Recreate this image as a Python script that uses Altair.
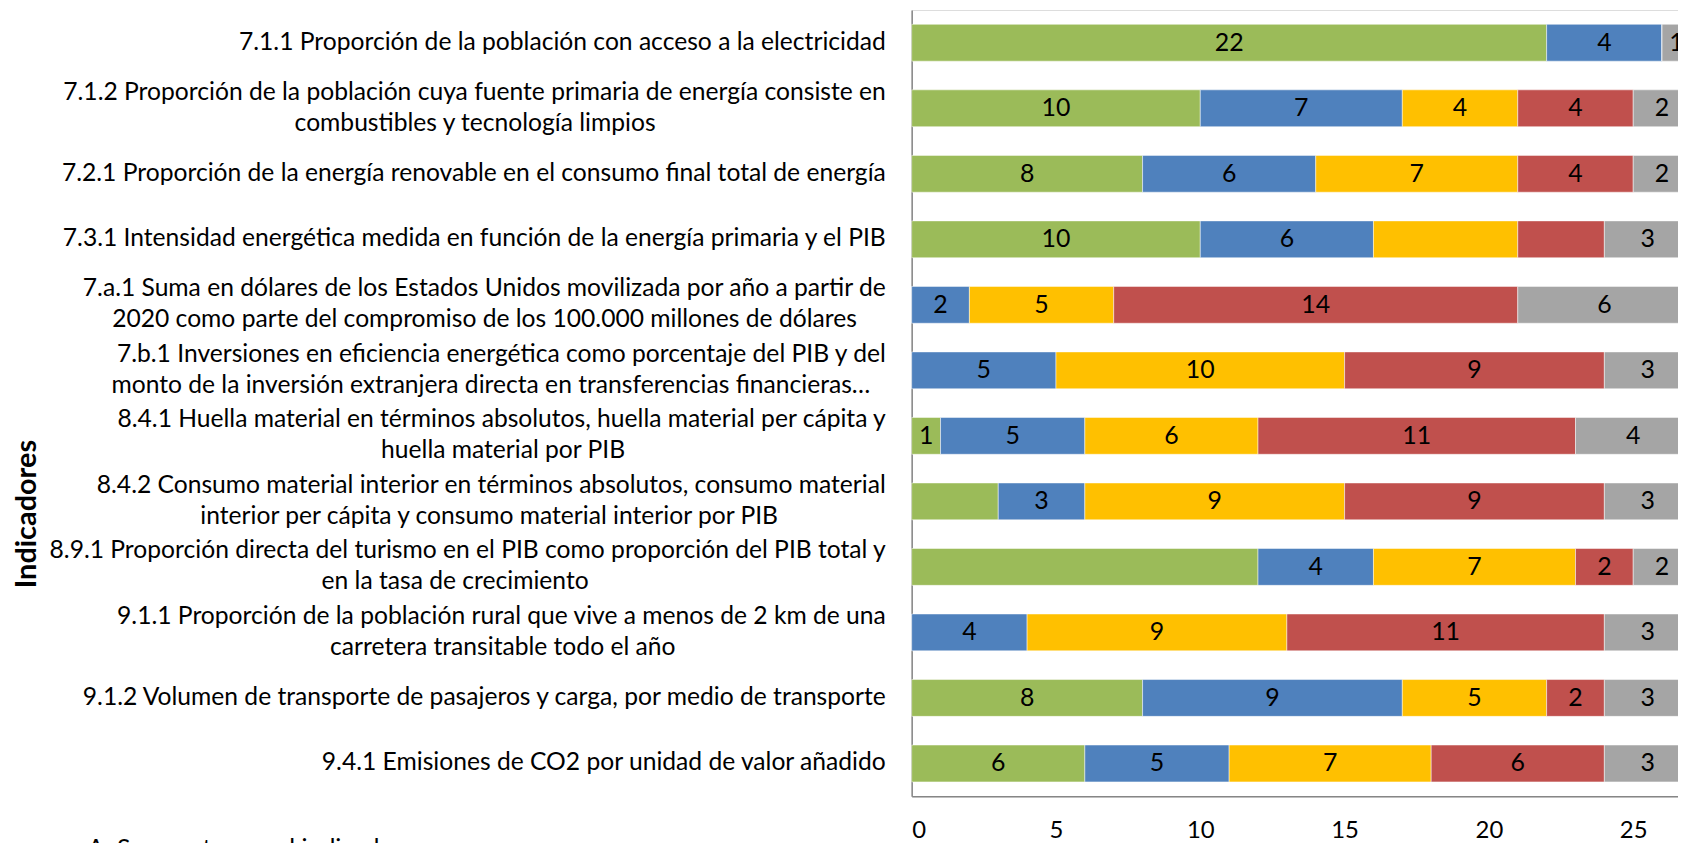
import altair as alt
import pandas as pd

indicadores = [
    ["7.1.1 Proporción de la población con acceso a la electricidad"],
    ["7.1.2 Proporción de la población cuya fuente primaria de energía consiste en",
     "combustibles y tecnología limpios"],
    ["7.2.1 Proporción de la energía renovable en el consumo final total de energía"],
    ["7.3.1 Intensidad energética medida en función de la energía primaria y el PIB"],
    ["7.a.1 Suma en dólares de los Estados Unidos movilizada por año a partir de",
     "2020 como parte del compromiso de los 100.000 millones de dólares"],
    ["7.b.1 Inversiones en eficiencia energética como porcentaje del PIB y del",
     "monto de la inversión extranjera directa en transferencias financieras…"],
    ["8.4.1 Huella material en términos absolutos, huella material per cápita y",
     "huella material por PIB"],
    ["8.4.2 Consumo material interior en términos absolutos, consumo material",
     "interior per cápita y consumo material interior por PIB"],
    ["8.9.1 Proporción directa del turismo en el PIB como proporción del PIB total y",
     "en la tasa de crecimiento"],
    ["9.1.1 Proporción de la población rural que vive a menos de 2 km de una",
     "carretera transitable todo el año"],
    ["9.1.2 Volumen de transporte de pasajeros y carga, por medio de transporte"],
    ["9.4.1 Emisiones de CO2 por unidad de valor añadido"],
]

series = ["A: Se cuenta con el indicador", "B", "C", "D", "E"]
colores = ["#9BBB59", "#4F81BD", "#FFC000", "#C0504D", "#A5A5A5"]

serie_a = [22, 10, 8, 10, 0, 0, 1, 3, 12, 0, 8, 6]
serie_b = [4, 7, 6, 6, 2, 5, 5, 3, 4, 4, 9, 5]
serie_c = [0, 4, 7, 5, 5, 10, 6, 9, 7, 9, 5, 7]
serie_d = [0, 4, 4, 3, 14, 9, 11, 9, 2, 11, 2, 6]
serie_e = [1, 2, 2, 3, 6, 3, 4, 3, 2, 3, 3, 3]

# segments whose data label is not shown in the original (row, series)
sin_etiqueta = [(3, 2), (3, 3), (7, 0), (8, 0)]

ticks_x = [0, 5, 10, 15, 20, 25, 30]

FONT = "Lato"
FS = 25
FS_CAT = 24.75
LH = 31
EDGE = -26        # right edge of category labels, px from the plot's left edge

# rough glyph advance widths (em) used only to centre a shorter wrapped line
_W = {" ": 0.19, ".": 0.2, ",": 0.2, "…": 0.7}
_W.update({c: 0.58 for c in "0123456789"})
_W.update(dict(a=.47, b=.54, c=.45, d=.54, e=.50, f=.31, g=.49, h=.54, i=.23, j=.23,
               k=.49, l=.23, m=.81, n=.54, o=.54, p=.53, q=.54, r=.35, s=.41, t=.34,
               u=.54, v=.49, w=.74, x=.48, y=.49, z=.44))
_W.update({"á": .47, "é": .50, "í": .23, "ó": .54, "ñ": .54, "ú": .54})


def ancho(texto):
    return sum(_W.get(c, 0.65) for c in texto) * FS_CAT * 1.06


codigos = [l[0].split(" ")[0] for l in indicadores]
valores = [serie_a, serie_b, serie_c, serie_d, serie_e]

filas = []
for i, cod in enumerate(codigos):
    for j, s in enumerate(series):
        v = valores[j][i]
        filas.append({"codigo": cod, "serie": s, "orden": j, "valor": v,
                      "mostrar": (v > 0) and ((i, j) not in sin_etiqueta)})
df = pd.DataFrame(filas)

# one row per label line: the longest line is right-aligned, the other is centred on it
lin = []
for cod, lineas in zip(codigos, indicadores):
    anchos = [ancho(t) for t in lineas]
    k_max = anchos.index(max(anchos))
    n = len(lineas)
    for k, t in enumerate(lineas):
        lin.append({
            "codigo": cod, "texto": t,
            "pos": k - (n - 1) / 2,
            "derecha": k == k_max,
            "xpix": EDGE if k == k_max else EDGE - max(anchos) / 2,
        })
etq = pd.DataFrame(lin)

x_scale = alt.Scale(domain=[0, 30], range=[0, 870], nice=False)
y_enc = alt.Y("codigo:N", sort=codigos,
              scale=alt.Scale(paddingInner=0.438, paddingOuter=0.219),
              axis=alt.Axis(labels=False, ticks=False, domain=True,
                            domainColor="#868686", domainWidth=1.5,
                            title="Indicadores", titleFont=FONT, titleFontSize=29,
                            titleFontWeight="bold", titleColor="#000000",
                            titleAngle=270, titleX=-889, titleY=506,
                            titleAlign="center", titleBaseline="middle"))

barras = alt.Chart(df).mark_bar(stroke="#ffffff", strokeWidth=0.8, strokeOpacity=0.6).encode(
    x=alt.X("valor:Q", stack="zero", scale=x_scale,
            axis=alt.Axis(values=ticks_x, grid=False, ticks=False, domain=True,
                          domainColor="#868686", domainWidth=1.5,
                          labelFont=FONT, labelFontSize=24, labelColor="#000000",
                          labelPadding=22, title=None)),
    y=y_enc,
    color=alt.Color("serie:N", scale=alt.Scale(domain=series, range=colores),
                    legend=alt.Legend(orient="none", legendX=-861, legendY=831,
                                      direction="vertical", title=None,
                                      symbolType="square", symbolSize=100,
                                      symbolStrokeWidth=0, labelFont=FONT,
                                      labelFontSize=FS, labelColor="#000000",
                                      labelLimit=700, labelOffset=8)),
    order=alt.Order("orden:Q"),
)

textos = alt.Chart(df).transform_stack(
    stack="valor", groupby=["codigo"], as_=["x0", "x1"],
    sort=[alt.SortField("orden", order="ascending")],
).transform_filter("datum.mostrar").transform_calculate(
    medio="(datum.x0 + datum.x1) / 2"
).mark_text(font=FONT, fontSize=FS, color="#000000", baseline="middle").encode(
    x=alt.X("medio:Q", scale=x_scale, axis=None),
    y=alt.Y("codigo:N", sort=codigos),
    text=alt.Text("valor:Q"),
)


def capa(derecha, pos):
    filtro = f"datum.derecha == {'true' if derecha else 'false'} && datum.pos == {pos}"
    return alt.Chart(etq).transform_filter(filtro).mark_text(
        font=FONT, fontSize=FS_CAT, color="#000000",
        align="right" if derecha else "center", baseline="middle", dy=pos * LH,
    ).encode(
        x=alt.X("xpix:Q", scale=None, axis=None),
        y=alt.Y("codigo:N", sort=codigos),
        text=alt.Text("texto:N"),
    )


capas = [capa(d, p) for d in (True, False) for p in (-0.5, 0, 0.5)]

chart = alt.layer(barras, textos, *capas).resolve_scale(
    x="independent"
).properties(
    width=770, height=790,
    autosize=alt.AutoSizeParams(type="none"),
    padding={"left": 908, "top": 0, "right": 0, "bottom": 45},
).configure_view(stroke=None).configure(background="#ffffff")

chart.save("out.html", embed_options={"renderer": "svg", "actions": False})
